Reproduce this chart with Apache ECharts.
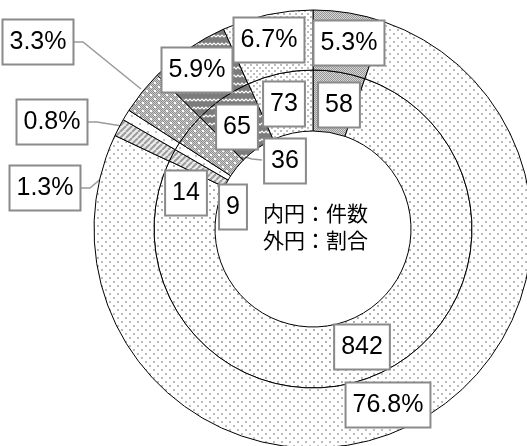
<!DOCTYPE html>
<html>
<head>
<meta charset="utf-8">
<script src="https://cdn.jsdelivr.net/npm/echarts@6/dist/echarts.min.js"></script>
<style>
html,body{margin:0;padding:0;background:#fff;}
#chart{width:527px;height:446px;}
</style>
</head>
<body>
<div id="chart"></div>
<script>
// ---- data (clockwise from 12 o'clock) ----
var categories = ['項目A', '項目B', '項目C', '項目D', '項目E', '項目F', '項目G'];
var innerCounts = [58, 842, 14, 9, 36, 65, 73];
var outerPercents = [5.3, 76.8, 1.3, 0.8, 3.3, 5.9, 6.7];
var centerLines = ['内円：件数', '外円：割合'];

// ---- label placement (label box centres) and leader lines ----
var innerLabelPos = [[339,105],[362,347],[186,193],[233,207],[285,161],[237,127],[284,104]];
var outerLabelPos = [[349,43],[388,405],[45,188],[52,122],[38,42],[197,70],[269,40]];
var innerLeaders = {4: [[245,157],[252,159],[262,160]]};
var outerLeaders = {
  2: [[137,148],[90,188],[78,188]],
  3: [[122,126],[97,122],[86,122]],
  4: [[141,89],[83,42],[72,42]]
};

// ---- fill patterns ----
function mk(w, h, fn) {
  var c = document.createElement('canvas');
  c.width = w; c.height = h;
  var g = c.getContext('2d');
  fn(g, w, h);
  return { image: c, repeat: 'repeat' };
}
var P842in = mk(8, 8, function (g) {
  g.fillStyle = '#fff'; g.fillRect(0, 0, 8, 8);
  g.fillStyle = '#b0b0b0'; g.fillRect(1, 1, 2, 2); g.fillRect(5, 5, 2, 2);
});
var P842out = mk(8, 8, function (g) {
  g.fillStyle = '#fff'; g.fillRect(0, 0, 8, 8);
  g.fillStyle = '#bcbcbc'; g.fillRect(1, 1, 2, 2); g.fillRect(5, 5, 2, 2);
});
var P58 = mk(2, 2, function (g) {
  g.fillStyle = '#d6d6d6'; g.fillRect(0, 0, 2, 2);
  g.fillStyle = '#969696'; g.fillRect(0, 0, 1, 1); g.fillRect(1, 1, 1, 1);
});
var P73 = mk(6, 6, function (g) {
  g.fillStyle = '#fff'; g.fillRect(0, 0, 6, 6);
  g.fillStyle = '#bcbcbc'; g.fillRect(1, 1, 2, 2); g.fillRect(4, 4, 2, 2);
});
var P65 = mk(8, 8, function (g) {
  g.fillStyle = '#7c7c7c'; g.fillRect(0, 0, 8, 8);
  g.strokeStyle = '#ffffff'; g.lineWidth = 1.2;
  g.beginPath(); g.moveTo(0, 5); g.lineTo(2, 3); g.lineTo(4, 5); g.lineTo(6, 3); g.lineTo(8, 5); g.stroke();
});
var P36 = mk(8, 8, function (g) {
  g.fillStyle = '#cdcdcd'; g.fillRect(0, 0, 8, 8);
  g.fillStyle = '#8e8e8e';
  for (var y = 0; y < 8; y++) for (var x = 0; x < 8; x++) if ((x + y) % 2 === 0) g.fillRect(x, y, 1, 1);
  g.fillStyle = '#fff'; g.fillRect(2, 2, 2, 2); g.fillRect(6, 6, 2, 2);
});
var P9 = mk(8, 8, function (g) {
  g.fillStyle = '#fff'; g.fillRect(0, 0, 8, 8);
  g.fillStyle = '#c4c4c4'; g.fillRect(3, 3, 2, 2);
});
var P14 = mk(6, 6, function (g) {
  g.fillStyle = '#ececec'; g.fillRect(0, 0, 6, 6);
  g.strokeStyle = '#9c9c9c'; g.lineWidth = 2;
  [-6, 0, 6].forEach(function (o) { g.beginPath(); g.moveTo(o, 6); g.lineTo(o + 6, 0); g.stroke(); });
});
var innerFills = [P58, P842in, P14, P9, P36, P65, P73];
var outerFills = [P58, P842out, P14, P9, P36, P65, P73];

var FONT = "'Liberation Sans', Arial, sans-serif";
var labelBase = {
  show: true,
  position: 'outside',
  color: '#000',
  fontSize: 25,
  fontFamily: FONT,
  lineHeight: 27,
  backgroundColor: '#fff',
  borderColor: '#8a8a8a',
  borderWidth: 2,
  padding: [8, 6, 8, 6]
};

function buildData(values, fills, leaders) {
  return values.map(function (v, i) {
    return {
      name: categories[i],
      value: v,
      itemStyle: { color: fills[i] },
      labelLine: { show: !!leaders[i] }
    };
  });
}
function layoutFn(posArr, leaders) {
  return function (params) {
    var i = params.dataIndex;
    var o = { x: posArr[i][0], y: posArr[i][1], align: 'center', verticalAlign: 'middle' };
    if (leaders[i]) o.labelLinePoints = leaders[i];
    return o;
  };
}

var chart = echarts.init(document.getElementById('chart'), null, { renderer: 'canvas' });
chart.setOption({
  animation: false,
  backgroundColor: '#fff',
  title: {
    text: centerLines.join('\n'),
    left: 263,
    top: 200,
    padding: 0,
    textStyle: {
      fontFamily: "'Noto Sans CJK JP', sans-serif",
      fontSize: 21,
      fontWeight: 'normal',
      color: '#000',
      lineHeight: 27
    }
  },
  series: [
    {
      type: 'pie',
      name: 'inner',
      center: [313, 229],
      radius: [98, 159],
      startAngle: 90,
      clockwise: true,
      avoidLabelOverlap: false,
      silent: true,
      emphasis: { disabled: true },
      itemStyle: { borderColor: '#000', borderWidth: 1 },
      label: Object.assign({}, labelBase, { formatter: '{c}' }),
      labelLine: { lineStyle: { color: '#9a9a9a', width: 1.5 } },
      labelLayout: layoutFn(innerLabelPos, innerLeaders),
      data: buildData(innerCounts, innerFills, innerLeaders)
    },
    {
      type: 'pie',
      name: 'outer',
      center: [313, 229],
      radius: [159, 219],
      startAngle: 90,
      clockwise: true,
      avoidLabelOverlap: false,
      silent: true,
      emphasis: { disabled: true },
      itemStyle: { borderColor: '#000', borderWidth: 1 },
      label: Object.assign({}, labelBase, { formatter: '{c}%' }),
      labelLine: { lineStyle: { color: '#9a9a9a', width: 1.5 } },
      labelLayout: layoutFn(outerLabelPos, outerLeaders),
      data: buildData(outerPercents, outerFills, outerLeaders)
    }
  ]
});
</script>
</body>
</html>
